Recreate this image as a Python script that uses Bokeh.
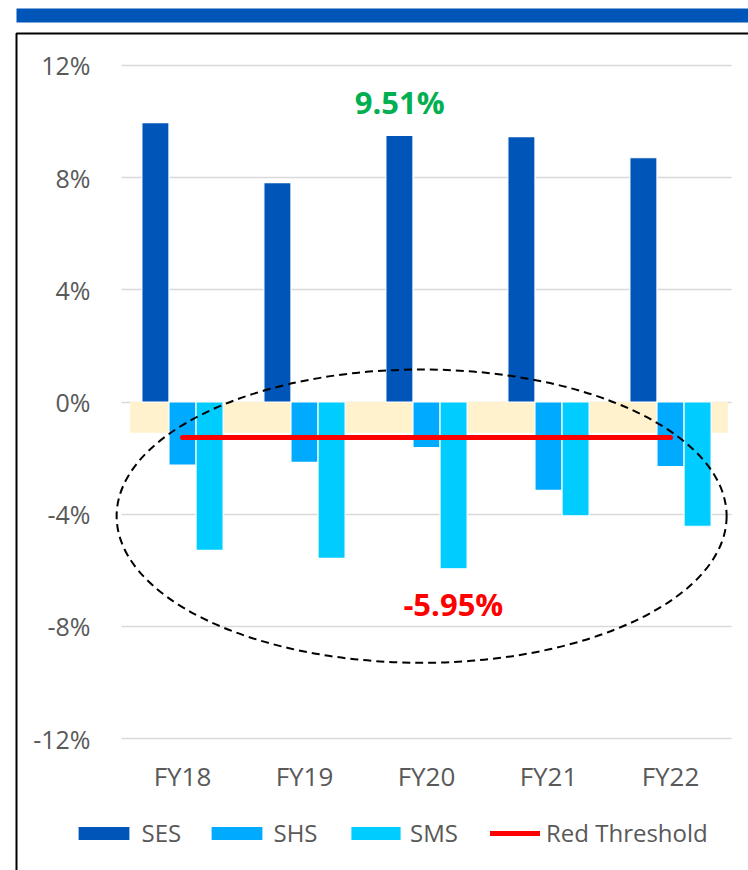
from bokeh.plotting import figure
from bokeh.models import (Range1d, FixedTicker, PrintfTickFormatter, BoxAnnotation,
                          Label, Legend, LegendItem)
from bokeh.embed import file_html
from bokeh.resources import INLINE

# ---- data ----
categories = ["FY18", "FY19", "FY20", "FY21", "FY22"]
ses = [9.96, 7.82, 9.51, 9.46, 8.71]
shs = [-2.25, -2.15, -1.63, -3.15, -2.30]
sms = [-5.29, -5.58, -5.95, -4.06, -4.43]
red_threshold = [-1.27, -1.27, -1.27, -1.27, -1.27]
band_range = [0.0, -1.1]
y_ticks = [-12, -8, -4, 0, 4, 8, 12]
callouts = ["9.51%", "-5.95%"]
series_names = ["SES", "SHS", "SMS", "Red Threshold"]

FONT = "Open Sans"
GREY = "#595959"
C_SES, C_SHS, C_SMS = "#0055B8", "#00AAFF", "#00CCFF"

W, H = 748, 870
# pixel geometry of the plotting area (page pixels)
PX_PER_CAT = 122.0
X0_PX = 182.0          # centre of first category
PX_PER_PCT = 28.042
Y0_PX = 401.5          # 0 % line


def px_x(px):
    return (px - X0_PX) / PX_PER_CAT


def px_y(py):
    return (Y0_PX - py) / PX_PER_PCT


xs = list(range(len(categories)))

p = figure(width=W, height=H, x_range=Range1d(px_x(0), px_x(W)), y_range=Range1d(px_y(H), px_y(0)),
           output_backend="svg", toolbar_location=None, min_border=0)
p.outline_line_color = None
p.background_fill_color = "white"
p.border_fill_color = "white"

# highlight band
p.quad(left=[-0.43], right=[4.47], top=[band_range[0]], bottom=[band_range[1]],
       fill_color="#FFF2CC", line_color=None)

bw = 0.222
r_ses = p.vbar(x=[x - bw for x in xs], top=ses, bottom=0, width=bw,
               fill_color=C_SES, line_color="white", line_width=1.2)
r_shs = p.vbar(x=xs, top=0, bottom=shs, width=bw,
               fill_color=C_SHS, line_color="white", line_width=1.2)
r_sms = p.vbar(x=[x + bw for x in xs], top=0, bottom=sms, width=bw,
               fill_color=C_SMS, line_color="white", line_width=1.2)
r_red = p.line(xs, red_threshold, line_color="#FF0000", line_width=5, line_cap="round")

p.ellipse(x=[1.96], y=[-4.07], width=[5.0], height=[10.46], fill_color=None,
          line_color="black", line_dash="8 5", line_width=2)

p.add_layout(Label(x=1.78, y=10.7, text=callouts[0], text_align="center", text_baseline="middle",
                   text_font=FONT, text_font_style="bold", text_font_size="31px", text_color="#00B050"))
p.add_layout(Label(x=2.22, y=-7.21, text=callouts[1], text_align="center", text_baseline="middle",
                   text_font=FONT, text_font_style="bold", text_font_size="31px", text_color="#FF0000"))

# axes (fixed inside the canvas)
p.xaxis.ticker = FixedTicker(ticks=xs)
p.xaxis.major_label_overrides = {i: c for i, c in enumerate(categories)}
p.yaxis.ticker = FixedTicker(ticks=y_ticks)
p.yaxis.formatter = PrintfTickFormatter(format="%d%%")
for ax in (p.xaxis, p.yaxis):
    ax.axis_line_color = None
    ax.major_tick_line_color = None
    ax.minor_tick_line_color = None
    ax.major_label_text_font = FONT
    ax.major_label_text_color = GREY
p.yaxis.major_label_text_font_size = "25px"
p.xaxis.major_label_text_font_size = "26px"
p.xaxis.fixed_location = -12.3
p.xaxis.major_label_standoff = 5
p.yaxis.fixed_location = -0.5
p.yaxis.major_label_standoff = 25

p.xgrid.grid_line_color = None
yg = p.ygrid[0]
yg.grid_line_color = "#D9D9D9"
yg.grid_line_width = 1.5
if "cross_bounds" in yg.properties():
    yg.cross_bounds = (-0.5, 4.5)
else:
    yg.grid_line_color = None
    p.segment(x0=[-0.5] * len(y_ticks), x1=[4.5] * len(y_ticks), y0=y_ticks, y1=y_ticks,
              line_color="#D9D9D9", line_width=1.5, level="underlay")

# legend: one entry per Legend so each sits where the reference has it
legend_specs = [  # (renderer, left px, glyph width, label standoff)
    (r_ses, 70.5, 65, 6),
    (r_shs, 203.5, 65, 5),
    (r_sms, 344.0, 63, 3),
    (r_red, 490.0, 50, 6),
]
for name, (rend, left, gw, so) in zip(series_names, legend_specs):
    lg = Legend(items=[LegendItem(label=name, renderers=[rend])],
                orientation="horizontal", location=(left, 21),
                glyph_width=gw, glyph_height=18, label_standoff=so,
                padding=0, margin=0, border_line_color=None, background_fill_alpha=0,
                label_text_font=FONT, label_text_font_size="24px", label_text_color=GREY)
    p.add_layout(lg)

# banner and framing box
p.add_layout(BoxAnnotation(left=px_x(16), right=None, top=px_y(8), bottom=px_y(22),
                           fill_color="#0055B8", fill_alpha=1, line_color=None))
p.add_layout(BoxAnnotation(left=px_x(16), right=px_x(W + 20), top=px_y(33), bottom=px_y(H + 20),
                           fill_color=None, fill_alpha=0, line_color="black", line_alpha=1,
                           line_width=2))

open("out.html", "w").write(file_html(p, INLINE))
